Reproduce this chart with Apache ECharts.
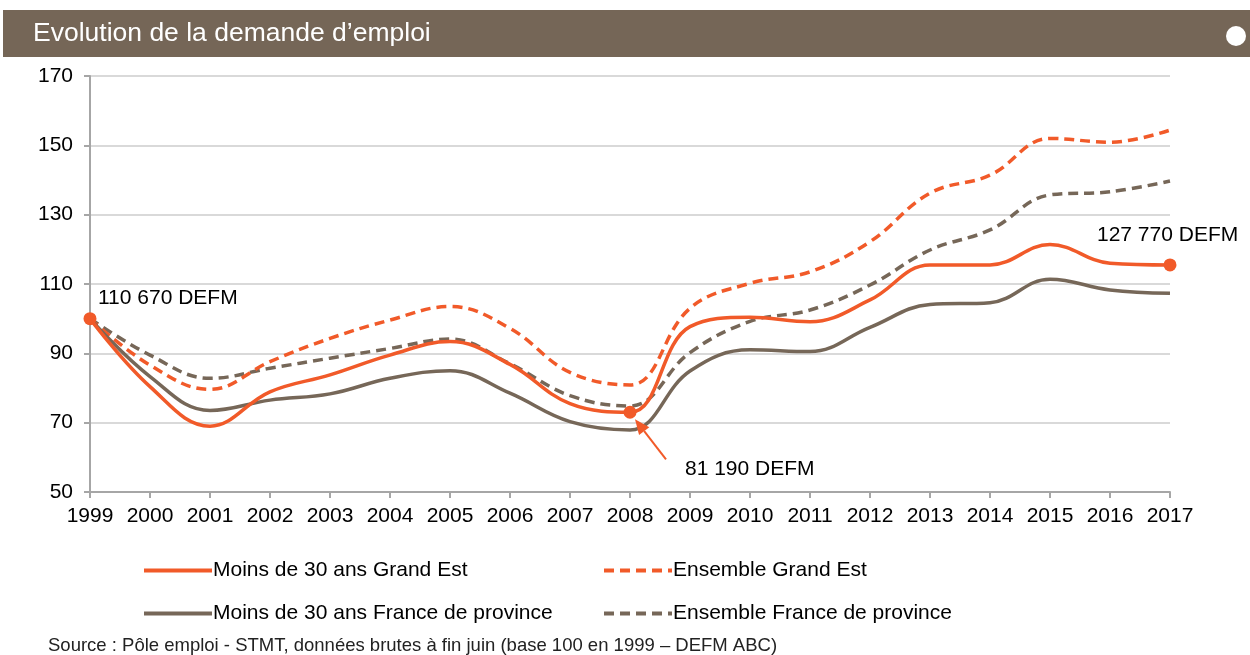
<!DOCTYPE html>
<html>
<head>
<meta charset="utf-8">
<script src="https://cdn.jsdelivr.net/npm/echarts@6/dist/echarts.min.js"></script>
<style>
html,body{margin:0;padding:0;background:#fff;}
#c{width:1250px;height:655px;}
</style>
</head>
<body>
<div id="c"></div>
<script>
var years = ['1999','2000','2001','2002','2003','2004','2005','2006','2007','2008','2009','2010','2011','2012','2013','2014','2015','2016','2017'];
var moinsGrandEst   = [100, 80.4, 69.0, 78.9, 83.8, 89.5, 93.4, 86.8, 75.5, 73.0, 97.7, 100.4, 99.1, 105.4, 115.5, 115.5, 121.4, 116.0, 115.5];
var ensGrandEst     = [100, 86.6, 79.6, 87.6, 94.3, 99.6, 103.5, 97.2, 84.5, 80.9, 103.0, 110.2, 113.5, 122.2, 136.2, 141.4, 152.0, 150.9, 154.4];
var moinsProvince   = [100, 83.3, 73.5, 76.5, 78.3, 82.8, 85.0, 78.5, 70.3, 67.9, 84.9, 91.0, 90.5, 97.5, 104.1, 104.6, 111.4, 108.3, 107.3];
var ensProvince     = [100, 89.5, 82.8, 85.7, 88.6, 91.4, 94.1, 87.0, 77.8, 74.8, 90.2, 99.2, 102.5, 109.7, 119.8, 125.6, 135.7, 136.6, 139.7];
var yTicks = [50, 70, 90, 110, 130, 150, 170];
var seriesNames = ['Moins de 30 ans Grand Est', 'Ensemble Grand Est', 'Moins de 30 ans France de province', 'Ensemble France de province'];
var markedIdx = [0, 9, 18];
var annotations = ['110 670 DEFM', '81 190 DEFM', '127 770 DEFM'];
var titleText = 'Evolution de la demande d\u2019emploi';
var sourceText = 'Source : P\u00f4le emploi - STMT, donn\u00e9es brutes \u00e0 fin juin (base 100 en 1999 \u2013 DEFM ABC)';

var ORANGE = '#F15A29';
var BROWN = '#766758';
var FONT = '"Liberation Sans", Arial, sans-serif';

var chart = echarts.init(document.getElementById('c'), null, {renderer: 'canvas'});

function lineSeries(name, data, color, dashed) {
  return {
    name: name, type: 'line', data: data, smooth: 0.4,
    symbol: 'none', showSymbol: false,
    lineStyle: {color: color, width: 3.5, type: dashed ? [10, 6] : 'solid', cap: 'butt'},
    itemStyle: {color: color},
    z: dashed ? 2 : 3
  };
}

function legendAt(left, names) {
  return {
    data: names, orient: 'vertical', left: left, top: 555,
    itemWidth: 68, itemHeight: 20, itemGap: 22,
    itemStyle: {opacity: 0},
    lineStyle: {width: 4},
    textStyle: {color: '#000', fontSize: 21, fontFamily: FONT, padding: [0, 0, 0, -4]}
  };
}

var option = {
  animation: false,
  textStyle: {fontFamily: FONT},
  grid: {left: 90, right: 80, top: 76, bottom: 163},
  xAxis: {
    type: 'category', data: years, boundaryGap: false,
    axisLine: {lineStyle: {color: '#A6A6A6', width: 2}},
    axisTick: {show: true, interval: 0, length: 6, lineStyle: {color: '#A6A6A6', width: 2}},
    axisLabel: {color: '#000', fontSize: 21, margin: 14, interval: 0, fontFamily: FONT},
    splitLine: {show: false}
  },
  yAxis: {
    type: 'value', min: yTicks[0], max: yTicks[yTicks.length - 1], interval: 20,
    axisLine: {show: true, lineStyle: {color: '#A6A6A6', width: 2}},
    axisTick: {show: true, length: 6, lineStyle: {color: '#A6A6A6', width: 2}},
    axisLabel: {color: '#000', fontSize: 21, margin: 17, fontFamily: FONT},
    splitLine: {show: true, lineStyle: {color: '#D9D9D9', width: 2}}
  },
  legend: [
    legendAt(137, [seriesNames[0], seriesNames[2]]),
    legendAt(597, [seriesNames[1], seriesNames[3]])
  ],
  series: [
    lineSeries(seriesNames[3], ensProvince, BROWN, true),
    lineSeries(seriesNames[1], ensGrandEst, ORANGE, true),
    lineSeries(seriesNames[2], moinsProvince, BROWN, false),
    lineSeries(seriesNames[0], moinsGrandEst, ORANGE, false),
    {
      name: 'markers', type: 'scatter', symbol: 'circle', symbolSize: 13,
      itemStyle: {color: ORANGE, opacity: 1}, z: 5,
      data: markedIdx.map(function (i) { return [years[i], moinsGrandEst[i]]; })
    }
  ],
  graphic: [
    {type: 'rect', left: 3, top: 10, shape: {width: 1247, height: 47}, style: {fill: '#756657'}, z: 10},
    {type: 'text', left: 33, top: 20, style: {text: titleText, fill: '#fff', fontSize: 26.5, fontFamily: FONT}, z: 11},
    {type: 'circle', shape: {cx: 1236, cy: 36, r: 10}, style: {fill: '#fff'}, z: 11},
    {type: 'text', left: 48, top: 636, style: {text: sourceText, fill: '#222', fontSize: 18.5, fontFamily: FONT}, z: 11}
  ]
};
chart.setOption(option);

// annotations placed relative to the marked data points
var p0 = chart.convertToPixel({gridIndex: 0}, [years[markedIdx[0]], moinsGrandEst[markedIdx[0]]]);
var p1 = chart.convertToPixel({gridIndex: 0}, [years[markedIdx[1]], moinsGrandEst[markedIdx[1]]]);
var p2 = chart.convertToPixel({gridIndex: 0}, [years[markedIdx[2]], moinsGrandEst[markedIdx[2]]]);

var ax = p1[0] + 36, ay = p1[1] + 47; // arrow tail
var hx = p1[0] + 5, hy = p1[1] + 7;   // arrow head tip
var ang = Math.atan2(hy - ay, hx - ax);
var hl = 15, hw = 6.5;
var bx = hx - hl * Math.cos(ang), by = hy - hl * Math.sin(ang);
var headPts = [
  [hx, hy],
  [bx + hw * Math.sin(ang), by - hw * Math.cos(ang)],
  [bx - hw * Math.sin(ang), by + hw * Math.cos(ang)]
];

chart.setOption({
  graphic: option.graphic.concat([
    {type: 'text', x: p0[0] + 8, y: p0[1] - 31, style: {text: annotations[0], fill: '#000', fontSize: 21, fontFamily: FONT}, z: 12},
    {type: 'text', x: p1[0] + 55, y: p1[1] + 46, style: {text: annotations[1], fill: '#000', fontSize: 21, fontFamily: FONT}, z: 12},
    {type: 'text', x: p2[0] - 73, y: p2[1] - 40, style: {text: annotations[2], fill: '#000', fontSize: 21, fontFamily: FONT}, z: 12},
    {type: 'line', shape: {x1: ax, y1: ay, x2: bx, y2: by}, style: {stroke: ORANGE, lineWidth: 2}, z: 12},
    {type: 'polygon', shape: {points: headPts}, style: {fill: ORANGE}, z: 12}
  ])
});
</script>
</body>
</html>
